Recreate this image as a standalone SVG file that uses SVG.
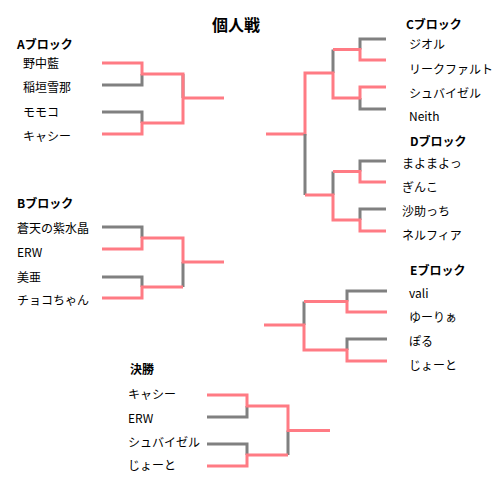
<svg xmlns="http://www.w3.org/2000/svg" width="500" height="484" viewBox="0 0 500 484">
<style>
text{font-family:"Noto Sans CJK JP","Noto Sans",sans-serif;font-size:12px;fill:#000}
.h{font-weight:bold}
.t{font-weight:bold;font-size:16px}
.g{fill:none;stroke:#808080;stroke-width:3}
.p{fill:none;stroke:#FF7B84;stroke-width:3}
</style>
<rect width="500" height="484" fill="#fff"/>
<text class="t" x="212" y="31">個人戦</text>
<g id="connectors">
<!-- Block A -->
<path class="g" d="M102,85H142V74M102,112H142V123M183,74V98"/>
<path class="p" d="M102,63H142V74H183V98H224M102,134H142V123H183V98"/>
<!-- Block B -->
<path class="g" d="M102,227H142V238M102,277H142V287M183,287V262"/>
<path class="p" d="M102,249H142V238H183V262H224M102,298H142V287H183"/>
<!-- Block C -->
<path class="g" d="M386,39H360V49.5M386,109H360V98M333,49.5V73"/>
<path class="p" d="M386,60H360V49.5H333M386,87H360V98H333V73H305V134H266"/>
<!-- Block D -->
<path class="g" d="M386,161H360V171.5M386,209H360V220M333,171.5V195M305,134V195"/>
<path class="p" d="M386,182H360V171.5H333M386,231H360V220H333V195H305"/>
<!-- Block E -->
<path class="g" d="M387,291H347V301.5M387,339H347V350M304,301.5V325"/>
<path class="p" d="M387,312H347V301.5H304M387,361H347V350H304V325H264"/>
<!-- Final -->
<path class="g" d="M207,417H247V406M207,444H247V455M288,455V430.5"/>
<path class="p" d="M207,395H247V406H288V430.5H330M207,466H247V455H288"/>
</g>
<g id="blockA">
<text class="h" x="17" y="48.5">Aブロック</text>
<text x="23" y="68">野中藍</text>
<text x="23" y="92">稲垣雪那</text>
<text x="23" y="116.5">モモコ</text>
<text x="23" y="140.5">キャシー</text>
</g>
<g id="blockB">
<text class="h" x="17" y="207.5">Bブロック</text>
<text x="17" y="232.5">蒼天の紫水晶</text>
<text x="17" y="257">ERW</text>
<text x="17" y="281.5">美亜</text>
<text x="17" y="304.5">チョコちゃん</text>
</g>
<g id="blockC">
<text class="h" x="406" y="28.5">Cブロック</text>
<text x="409" y="49">ジオル</text>
<text x="409" y="73.5">リークファルト</text>
<text x="409" y="97.5">シュバイゼル</text>
<text x="409" y="121">Neith</text>
</g>
<g id="blockD">
<text class="h" x="410" y="146">Dブロック</text>
<text x="402" y="167.5">まよまよっ</text>
<text x="402" y="192">ぎんこ</text>
<text x="402" y="216">沙助っち</text>
<text x="402" y="240">ネルフィア</text>
</g>
<g id="blockE">
<text class="h" x="410" y="274.5">Eブロック</text>
<text x="409" y="297.5">vali</text>
<text x="409" y="321.5">ゆーりぁ</text>
<text x="409" y="345.5">ぽる</text>
<text x="409" y="369.5">じょーと</text>
</g>
<g id="final">
<text class="h" x="130" y="373.5">決勝</text>
<text x="128" y="398.5">キャシー</text>
<text x="128" y="422.5">ERW</text>
<text x="128" y="447">シュバイゼル</text>
<text x="128" y="470">じょーと</text>
</g>
</svg>
